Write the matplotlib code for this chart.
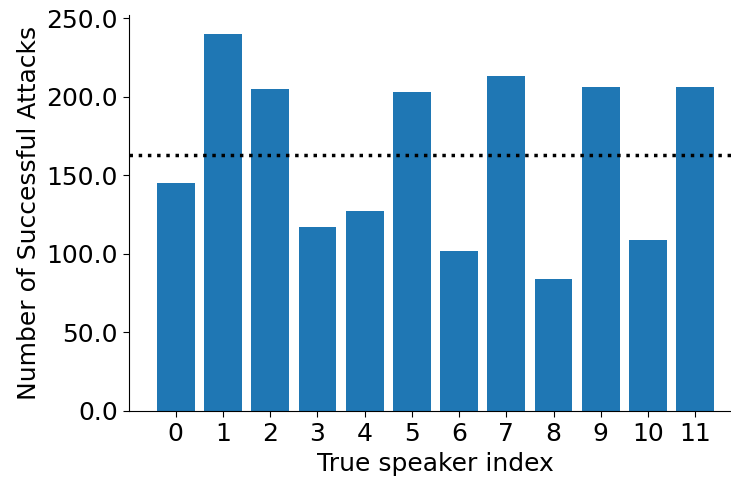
import numpy as np
import matplotlib
matplotlib.use("Agg")
import matplotlib.pyplot as plt

speakers = list(range(12))
attacks = [145, 240, 205, 117, 127, 203, 102, 213, 84, 206, 109, 206]

fig = plt.figure(figsize=(7.31, 4.8), dpi=100)
ax = fig.add_axes([129 / 731, 69 / 480, 613 / 731, 396 / 480])

ax.bar(speakers, attacks, color="#1f77b4")
ax.axhline(np.mean(attacks), color="black", linestyle=":", linewidth=2.5)

ax.set_xticks(speakers)
ax.yaxis.set_major_formatter(matplotlib.ticker.FormatStrFormatter("%.1f"))
ax.tick_params(labelsize=18, length=4.5)
ax.set_xlabel("True speaker index", fontsize=18)
ax.set_ylabel("Number of Successful Attacks", fontsize=18)
ax.spines["top"].set_visible(False)
ax.spines["right"].set_visible(False)

fig.savefig("out.png", dpi=100)
